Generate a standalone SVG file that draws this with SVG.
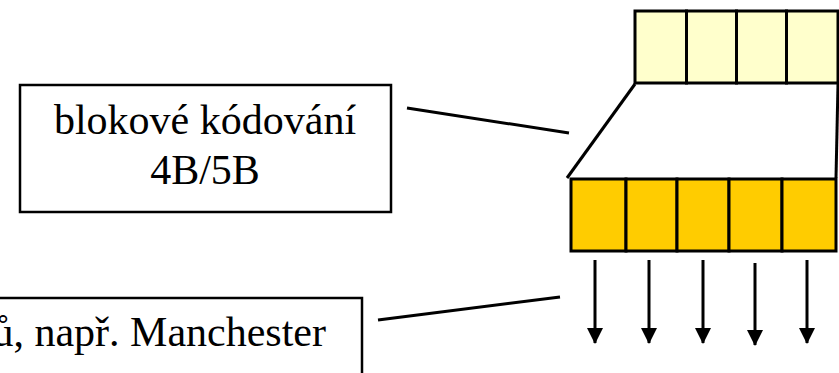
<svg xmlns="http://www.w3.org/2000/svg" width="839" height="373" viewBox="0 0 839 373">
<style>
.box{fill:#fff;stroke:#000;stroke-width:2.5}
.lbl{font-family:"Liberation Serif","Times New Roman",serif;font-size:42px;fill:#000}
.c1{fill:#FFFFCC;stroke:#000;stroke-width:3}
.c2{fill:#FFCC00;stroke:#000;stroke-width:3}
.ln{stroke:#000;stroke-width:3;fill:none}
</style>
<defs>
<marker id="ah" markerWidth="16" markerHeight="16" refX="15" refY="8" orient="auto" markerUnits="userSpaceOnUse" viewBox="0 0 16 16">
<path d="M0,0 L16,8 L0,16 Z" fill="#000"/>
</marker>
</defs>
<g id="input-block">
<rect class="c1" x="635" y="11" width="51.5" height="72"/>
<rect class="c1" x="686.5" y="11" width="50" height="72"/>
<rect class="c1" x="736.5" y="11" width="50" height="72"/>
<rect class="c1" x="786.5" y="11" width="51.5" height="72"/>
</g>
<g id="encoder">
<line class="ln" x1="635" y1="84" x2="567" y2="178"/>
<line class="ln" x1="838" y1="84" x2="836" y2="178"/>
</g>
<g id="output-block">
<rect class="c2" x="571" y="179" width="55" height="72"/>
<rect class="c2" x="626" y="179" width="51" height="72"/>
<rect class="c2" x="677" y="179" width="52" height="72"/>
<rect class="c2" x="729" y="179" width="53" height="72"/>
<rect class="c2" x="782" y="179" width="54" height="72"/>
</g>
<g id="label-block-coding">
<rect class="box" x="20" y="85" width="371" height="127"/>
<text class="lbl" x="205" y="134" text-anchor="middle">blokové kódování</text>
<text class="lbl" x="205" y="184" text-anchor="middle">4B/5B</text>
</g>
<g id="label-line-coding">
<rect class="box" x="-10" y="298" width="372" height="90"/>
<text class="lbl" x="326" y="346" text-anchor="end">ů, např. Manchester</text>
</g>
<g id="connectors">
<line class="ln" x1="407" y1="108" x2="569" y2="133"/>
<line class="ln" x1="378" y1="320" x2="560" y2="297"/>
<line class="ln" x1="595" y1="260" x2="595" y2="343" marker-end="url(#ah)"/>
<line class="ln" x1="649" y1="260" x2="649" y2="343" marker-end="url(#ah)"/>
<line class="ln" x1="703" y1="260" x2="703" y2="343" marker-end="url(#ah)"/>
<line class="ln" x1="755" y1="263" x2="755" y2="345" marker-end="url(#ah)"/>
<line class="ln" x1="807" y1="260" x2="807" y2="343" marker-end="url(#ah)"/>
</g>
</svg>
